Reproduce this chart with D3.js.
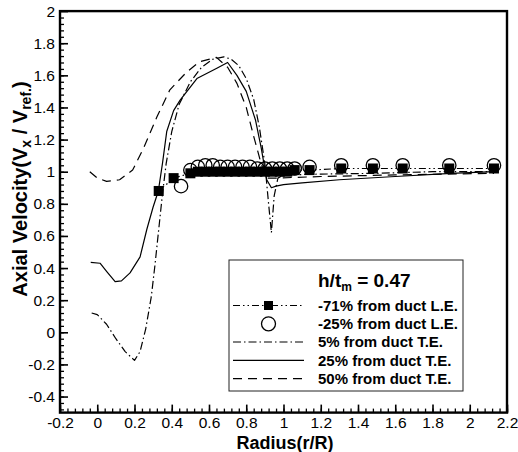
<!DOCTYPE html>
<html><head><meta charset="utf-8">
<script src="https://cdn.jsdelivr.net/npm/d3@7"></script>
<style>body{margin:0;background:#fff} svg{display:block}</style>
</head><body><svg id="c" width="518" height="452"></svg>
<script>
// ---- data ----
const xMajorTicks = [-0.2,0,0.2,0.4,0.6,0.8,1,1.2,1.4,1.6,1.8,2,2.2];
const yMajorTicks = [-0.4,-0.2,0,0.2,0.4,0.6,0.8,1,1.2,1.4,1.6,1.8,2];

const le71X = [0.33,0.41,0.5,0.54,0.58,0.62,0.66,0.7,0.74,0.78,0.82,0.86,0.9,0.94,0.98,1.02,1.06,1.14,1.31,1.48,1.64,1.89,2.13];
const le71Y = [0.88,0.96,0.99,1.0,1.0,1.0,1.0,1.0,1.0,1.0,1.0,1.0,1.0,1.0,1.0,1.0,1.01,1.01,1.02,1.02,1.02,1.02,1.02];

const le25X = [0.45,0.5,0.54,0.58,0.62,0.66,0.7,0.74,0.78,0.82,0.86,0.9,0.94,0.98,1.02,1.06,1.14,1.31,1.48,1.64,1.89,2.13];
const le25Y = [0.91,1.01,1.03,1.04,1.04,1.03,1.03,1.03,1.03,1.03,1.02,1.02,1.02,1.02,1.02,1.02,1.03,1.04,1.04,1.04,1.04,1.04];

const te5X = [-0.03,0.0,0.05,0.1,0.15,0.2,0.23,0.26,0.29,0.31,0.33,0.35,0.37,0.4,0.44,0.5,0.56,0.62,0.68,0.72,0.76,0.8,0.84,0.87,0.9,0.92,0.935,0.95,0.97,1.0,1.2,1.5,1.8,2.13];
const te5Y = [0.12,0.11,0.05,-0.04,-0.12,-0.175,-0.12,0.02,0.22,0.42,0.64,0.86,1.05,1.25,1.42,1.56,1.65,1.7,1.715,1.7,1.66,1.58,1.45,1.28,1.05,0.8,0.62,0.85,0.96,0.98,0.985,0.99,1.0,1.0];

const te25X = [-0.035,0.015,0.05,0.096,0.13,0.176,0.23,0.266,0.3,0.328,0.35,0.373,0.41,0.445,0.535,0.642,0.7,0.75,0.8,0.85,0.88,0.91,0.935,0.96,1.0,1.1,1.3,1.6,1.9,2.13];
const te25Y = [0.435,0.43,0.38,0.315,0.32,0.37,0.47,0.64,0.78,0.88,1.05,1.25,1.38,1.446,1.58,1.644,1.68,1.6,1.5,1.32,1.15,0.95,0.9,0.91,0.92,0.93,0.95,0.97,0.99,1.0];

const te50X = [-0.04,0.0,0.05,0.12,0.19,0.25,0.32,0.39,0.48,0.55,0.64,0.7,0.75,0.8,0.84,0.88,0.91,0.95,1.2,1.6,2.13];
const te50Y = [1.0,0.96,0.94,0.95,1.01,1.15,1.34,1.51,1.62,1.685,1.712,1.65,1.55,1.4,1.22,1.05,0.96,0.96,0.97,0.98,0.99];

const seriesNames = ["-71% from duct L.E.","-25% from duct L.E.","5% from duct T.E.","25% from duct T.E.","50% from duct T.E."];

// ---- chart ----
const svg = d3.select("#c");
const font = "'Liberation Sans', Arial, Helvetica, sans-serif";
const x = d3.scaleLinear().domain([-0.2,2.2]).range([60,507]);
const y = d3.scaleLinear().domain([-0.5,2]).range([412.6,11.1]);

const fmt = d => String(+(+d).toFixed(1));
const xMinor = d3.range(-0.2,2.2001,0.04).map(v=>+v.toFixed(2));
const yMinor = d3.range(-0.48,2.0,0.04).map(v=>+v.toFixed(2));

// minor ticks
svg.append("g").attr("transform","translate(0,412.6)")
  .call(d3.axisBottom(x).tickValues(xMinor).tickSize(-4).tickFormat(""))
  .call(g=>g.select(".domain").remove())
  .call(g=>g.selectAll("line").attr("stroke","#000").attr("stroke-width",1.3));
svg.append("g").attr("transform","translate(60,0)")
  .call(d3.axisLeft(y).tickValues(yMinor).tickSize(-4).tickFormat(""))
  .call(g=>g.select(".domain").remove())
  .call(g=>g.selectAll("line").attr("stroke","#000").attr("stroke-width",1.3));

// major ticks
svg.append("g").attr("transform","translate(0,412.6)")
  .call(d3.axisBottom(x).tickValues(xMajorTicks).tickSize(-8).tickPadding(4).tickFormat(fmt))
  .call(g=>g.select(".domain").remove())
  .call(g=>g.selectAll("line").attr("stroke","#000").attr("stroke-width",1.6))
  .call(g=>g.selectAll("text").attr("font-family",font).attr("font-size",15.5).attr("fill","#000"));
svg.append("g").attr("transform","translate(60,0)")
  .call(d3.axisLeft(y).tickValues(yMajorTicks).tickSize(-8).tickPadding(5).tickFormat(fmt))
  .call(g=>g.select(".domain").remove())
  .call(g=>g.selectAll("line").attr("stroke","#000").attr("stroke-width",1.6))
  .call(g=>g.selectAll("text").attr("font-family",font).attr("font-size",15.5).attr("fill","#000"));

// frame
svg.append("rect").attr("x",x(-0.2)).attr("y",y(2)).attr("width",x(2.2)-x(-0.2)).attr("height",y(-0.5)-y(2))
  .attr("fill","none").attr("stroke","#000").attr("stroke-width",2.4);

// lines
const line = d3.line().x(d=>x(d[0])).y(d=>y(d[1]));
const zip = (a,b)=>a.map((v,i)=>[v,b[i]]);
const styles = {
  le71: "7,3,1.5,3,1.5,3",
  te5: "8,3,1.5,3",
  te25: null,
  te50: "9,6"
};
function drawLine(data, dash){
  const p = svg.append("path").datum(data).attr("d",line).attr("fill","none")
    .attr("stroke","#000").attr("stroke-width",1.2).attr("stroke-linejoin","round");
  if(dash) p.attr("stroke-dasharray",dash);
}
drawLine(zip(te50X,te50Y), styles.te50);
drawLine(zip(te25X,te25Y), styles.te25);
drawLine(zip(te5X,te5Y), styles.te5);
drawLine(zip(le71X,le71Y), styles.le71);

// markers
const sq = 10;
svg.append("g").selectAll("rect").data(zip(le71X,le71Y)).join("rect")
  .attr("x",d=>x(d[0])-sq/2).attr("y",d=>y(d[1])-sq/2).attr("width",sq).attr("height",sq).attr("fill","#000");
svg.append("g").selectAll("circle").data(zip(le25X,le25Y)).join("circle")
  .attr("cx",d=>x(d[0])).attr("cy",d=>y(d[1])).attr("r",6.7)
  .attr("fill","none").attr("stroke","#000").attr("stroke-width",1.3);

// axis titles
svg.append("text").attr("x",285).attr("y",449).attr("text-anchor","middle")
  .attr("font-family",font).attr("font-size",18).attr("font-weight","bold").text("Radius(r/R)");
const yt = svg.append("text").attr("transform","translate(27,189) rotate(-90)").attr("text-anchor","middle")
  .attr("font-family",font).attr("font-size",20).attr("font-weight","bold");
yt.append("tspan").text("Axial Velocity(V");
yt.append("tspan").attr("font-size",14).attr("dy",4).text("x");
yt.append("tspan").attr("dy",-4).text(" / V");
yt.append("tspan").attr("font-size",14).attr("dy",4).text("ref.");
yt.append("tspan").attr("dy",-4).text(")");

// legend
const L = {x0:229, y0:260, x1:463, y1:391};
svg.append("rect").attr("x",L.x0).attr("y",L.y0).attr("width",L.x1-L.x0).attr("height",L.y1-L.y0)
  .attr("fill","#fff").attr("stroke","#222").attr("stroke-width",1);
const lt = svg.append("text").attr("x",318).attr("y",287).attr("font-family",font)
  .attr("font-size",19).attr("font-weight","bold");
lt.append("tspan").text("h/t");
lt.append("tspan").attr("font-size",12).attr("dy",4).text("m");
lt.append("tspan").attr("dy",-4).text(" = 0.47");

const rowY = [305.5, 323.8, 342, 360.3, 378.7];
const rowDash = [styles.le71, null, styles.te5, styles.te25, styles.te50];
seriesNames.forEach((name,i)=>{
  const cy = rowY[i];
  if(i!==1){
    const p = svg.append("line").attr("x1",233).attr("x2",304).attr("y1",cy).attr("y2",cy)
      .attr("stroke","#000").attr("stroke-width",1.2);
    if(rowDash[i]) p.attr("stroke-dasharray",rowDash[i]);
  }
  if(i===0) svg.append("rect").attr("x",268.5-4.5).attr("y",cy-4.5).attr("width",9).attr("height",9).attr("fill","#000");
  if(i===1) svg.append("circle").attr("cx",268.5).attr("cy",cy).attr("r",7).attr("fill","none").attr("stroke","#000").attr("stroke-width",1.3);
  svg.append("text").attr("x",318).attr("y",cy+5.3).attr("font-family",font).attr("font-size",15)
    .attr("font-weight","bold").text(name);
});
</script></body></html>
